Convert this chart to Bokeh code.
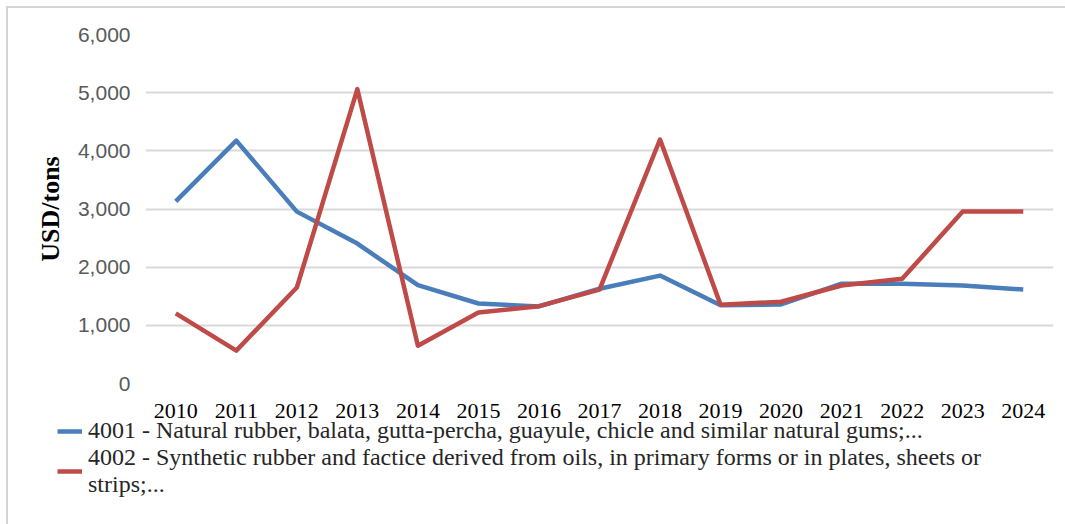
from bokeh.plotting import figure
from bokeh.layouts import column
from bokeh.models import (ColumnDataSource, Legend, LegendItem, NumeralTickFormatter,
                          FixedTicker, InlineStyleSheet, Range1d)
from bokeh.embed import file_html
from bokeh.resources import INLINE

years = ["2010", "2011", "2012", "2013", "2014", "2015", "2016", "2017",
         "2018", "2019", "2020", "2021", "2022", "2023", "2024"]
natural_rubber = [3130, 4175, 2955, 2405, 1690, 1375, 1325, 1630,
                  1855, 1345, 1360, 1715, 1715, 1685, 1615]
synthetic_rubber = [1205, 565, 1650, 5060, 650, 1220, 1330, 1615,
                    4195, 1355, 1405, 1685, 1800, 2955, 2955]
series_names = [
    "4001 - Natural rubber, balata, gutta-percha, guayule, chicle and similar natural gums;...",
    "4002 - Synthetic rubber and factice derived from oils, in primary forms or in plates, sheets or\nstrips;...",
]
series_colors = ["#4A7EBB", "#BE4B48"]
y_ticks = [0, 1000, 2000, 3000, 4000, 5000, 6000]

src = ColumnDataSource(dict(year=years, natural=natural_rubber, synthetic=synthetic_rubber))

# ---- main chart ----
p = figure(x_range=years, y_range=(0, 6000), width=1065, height=430,
           min_border_left=145, min_border_right=12, min_border_top=34, min_border_bottom=47,
           output_backend="svg", toolbar_location=None)
p.outline_line_color = None
p.background_fill_color = "white"
p.border_fill_color = "white"

p.yaxis.ticker = FixedTicker(ticks=y_ticks)
p.yaxis.formatter = NumeralTickFormatter(format="0,0")
p.yaxis.axis_line_color = None
p.yaxis.major_tick_line_color = None
p.yaxis.minor_tick_line_color = None
p.yaxis.major_tick_out = 0
p.yaxis.major_tick_in = 0
p.yaxis.major_label_text_font = "Liberation Sans"
p.yaxis.major_label_text_font_size = "21px"
p.yaxis.major_label_text_color = "#595959"
p.yaxis.major_label_standoff = 15
p.yaxis.axis_label = "USD/tons"
p.yaxis.axis_label_text_font = "Liberation Serif"
p.yaxis.axis_label_text_font_style = "bold"
p.yaxis.axis_label_text_font_size = "26px"
p.yaxis.axis_label_text_color = "black"
p.yaxis.axis_label_standoff = 10

p.xaxis.axis_line_color = None
p.xaxis.major_tick_line_color = None
p.xaxis.minor_tick_line_color = None
p.xaxis.major_tick_out = 0
p.xaxis.major_tick_in = 0
p.xaxis.major_label_text_font = "Liberation Serif"
p.xaxis.major_label_text_font_size = "22px"
p.xaxis.major_label_text_color = "black"
p.xaxis.major_label_standoff = 20

p.xgrid.grid_line_color = None
p.ygrid.grid_line_color = "#d9d9d9"
p.ygrid.grid_line_width = 2

p.line("year", "natural", source=src, line_color=series_colors[0], line_width=4.5, line_join="round")
p.line("year", "synthetic", source=src, line_color=series_colors[1], line_width=4.5, line_join="round")

# ---- legend strip under the chart (overlaps the chart's empty bottom margin) ----
lg = figure(width=1065, height=110, x_range=Range1d(0, 1065), y_range=Range1d(0, 110),
            x_axis_type=None, y_axis_type=None,
            min_border_left=0, min_border_right=0, min_border_top=0, min_border_bottom=0,
            output_backend="svg", toolbar_location=None)
if "frame_align" in lg.properties():
    lg.frame_align = False
lg.outline_line_color = None
lg.background_fill_alpha = 0
lg.border_fill_alpha = 0
lg.grid.visible = False
lg.styles = {"margin-top": "-16px"}

# legend-only line renderers (one undrawn point each, carrying the series style)
nan = float("nan")
swatches = [lg.line(x=[nan], y=[nan], line_color=c, line_width=4.5) for c in series_colors]
legend = Legend(items=[LegendItem(label=name, renderers=[r]) for name, r in zip(series_names, swatches)],
                location=(57, 26), orientation="vertical",
                padding=0, margin=0, spacing=-1, glyph_width=25, label_standoff=6,
                border_line_color=None, background_fill_alpha=0,
                label_text_font="Liberation Serif", label_text_font_size="24px",
                label_text_color="#262626", label_text_line_height=1.2)
lg.add_layout(legend, "center")

layout = column(p, lg, spacing=0)
# light frame along the top and left edges of the whole chart
layout.stylesheets = [InlineStyleSheet(css="""
:host { position: relative; }
:host::after { content: ""; position: absolute; left: 6px; top: 6px; right: 0; bottom: 0;
  border-left: 2px solid #d4d4d4; border-top: 2px solid #d4d4d4; pointer-events: none; }
""")]

open("out.html", "w").write(file_html(layout, INLINE))
